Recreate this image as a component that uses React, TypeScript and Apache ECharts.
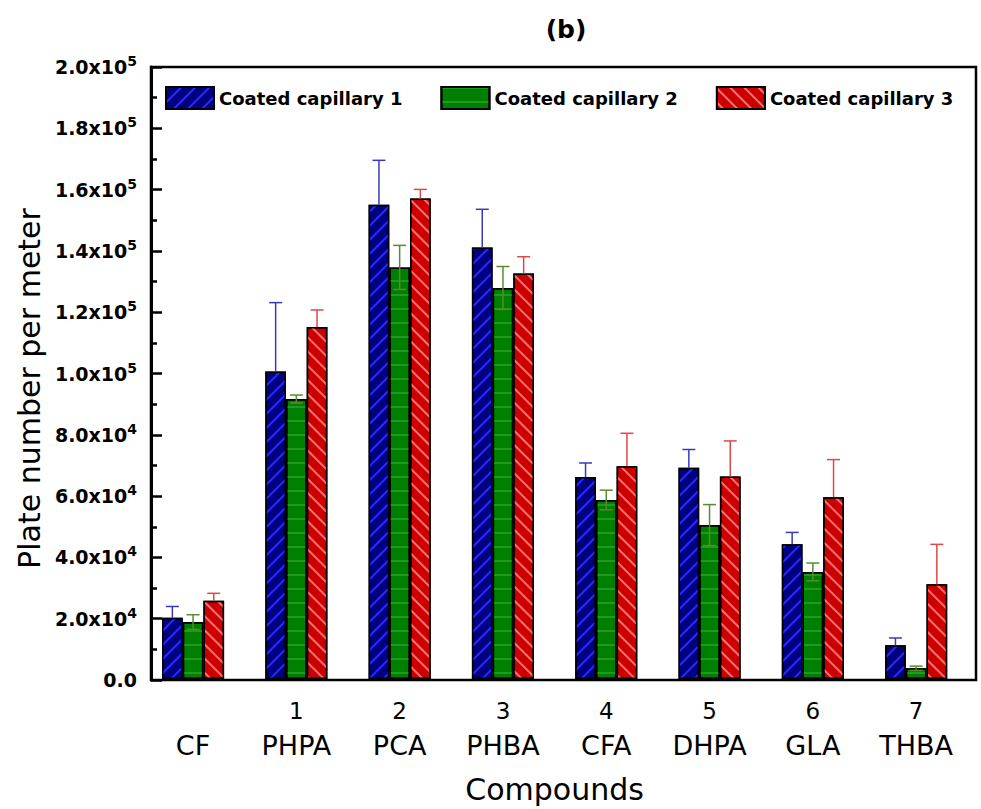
import React, { useEffect, useRef } from "react";
import * as echarts from "echarts";

const categories = ["CF", "PHPA", "PCA", "PHBA", "CFA", "DHPA", "GLA", "THBA"];
const compoundNumbers = ["", "1", "2", "3", "4", "5", "6", "7"];
const seriesNames = ["Coated capillary 1", "Coated capillary 2", "Coated capillary 3"];

const capillary1 = [20000, 100500, 155000, 141000, 66000, 69000, 44000, 11000];
const capillary1Err = [3700, 22500, 14500, 12500, 4600, 6000, 3900, 2400];
const capillary2 = [18600, 91500, 134500, 127800, 58500, 50300, 35000, 3500];
const capillary2Err = [2400, 1300, 7200, 7000, 3200, 6700, 2900, 700];
const capillary3 = [25600, 115000, 157000, 132500, 69500, 66200, 59400, 31000];
const capillary3Err = [2400, 5600, 3000, 5500, 10800, 11600, 12300, 13000];

const values = [capillary1, capillary2, capillary3];
const errors = [capillary1Err, capillary2Err, capillary3Err];

const fills = ["#000080", "#008000", "#cc0000"];
const errColors = ["#3a3ab8", "#5a8a30", "#e04848"];
const decals: any[] = [
  { symbol: "rect", symbolSize: 1, color: "#2a2aff", dashArrayX: [1, 0], dashArrayY: [1.2, 8], rotation: -Math.PI / 4 },
  { symbol: "rect", symbolSize: 1, color: "#1f9a1f", dashArrayX: [1, 0], dashArrayY: [1.2, 11.5], rotation: 0 },
  { symbol: "rect", symbolSize: 1, color: "#ff7070", dashArrayX: [1, 0], dashArrayY: [1.2, 8], rotation: Math.PI / 4 },
];

const BAR_W = 20.7;
const FONT = "DejaVu Sans";

function yLabel(v: number) {
  if (v === 0) return "{b|0.0}";
  const e = Math.floor(Math.log10(v) + 1e-9);
  const m = v / Math.pow(10, e);
  return `{b|${m.toFixed(1)}x10}{s|${e}}`;
}

export default function App() {
  const ref = useRef<HTMLDivElement>(null);
  useEffect(() => {
    if (!ref.current) return;
    const chart = echarts.init(ref.current, null, { renderer: "svg" });
    const barSeries = seriesNames.map((name, s) => ({
      name,
      type: "bar",
      xAxisIndex: 1,
      yAxisIndex: 1,
      data: values[s],
      barWidth: BAR_W,
      barGap: "0%",
      z: 2,
      itemStyle: { color: fills[s], borderColor: "#000", borderWidth: 1.5, decal: decals[s] },
    }));
    const errSeries = seriesNames.map((name, s) => ({
      name: "err" + s,
      type: "custom",
      xAxisIndex: 1,
      yAxisIndex: 1,
      z: 5,
      data: categories.map((c, i) => [i, values[s][i], errors[s][i]]),
      encode: { x: 0, y: 1 },
      renderItem: (params: any, api: any) => {
        const x = api.value(0);
        const v = api.value(1);
        const e = api.value(2);
        const top = api.coord([x, v + e]);
        const mid = api.coord([x, v]);
        const bot = api.coord([x, v - e]);
        const cx = top[0] + (s - 1) * BAR_W;
        const hw = 6.5;
        const style = { stroke: errColors[s], lineWidth: 1.5 };
        const children: any[] = [
          { type: "line", shape: { x1: cx, y1: top[1], x2: cx, y2: mid[1] }, style },
          { type: "line", shape: { x1: cx - hw, y1: top[1], x2: cx + hw, y2: top[1] }, style },
        ];
        if (s === 1) {
          children.push(
            { type: "line", shape: { x1: cx, y1: mid[1], x2: cx, y2: bot[1] }, style },
            { type: "line", shape: { x1: cx - hw, y1: bot[1], x2: cx + hw, y2: bot[1] }, style }
          );
        }
        return { type: "group", children };
      },
    }));
    chart.setOption({
      animation: false,
      backgroundColor: "#fff",
      title: {
        text: "(b)",
        left: 561,
        top: 12,
        textAlign: "center",
        textStyle: { fontFamily: FONT, fontWeight: "bold", fontSize: 25, color: "#000" },
      },
      legend: {
        data: seriesNames,
        left: 160,
        top: 81,
        itemWidth: 48,
        itemHeight: 22,
        itemGap: 38,
        icon: "rect",
        textStyle: { fontFamily: FONT, fontWeight: "bold", fontSize: 18, color: "#000" },
      },
      grid: [
        { left: 151, right: 5, top: 67, bottom: 129, show: true, borderColor: "#000", borderWidth: 2.5, backgroundColor: "transparent" },
        { left: 141.4, right: 13.2, top: 67, bottom: 129 },
      ],
      xAxis: [
        { type: "value", gridIndex: 0, min: 0, max: 1, show: false },
        {
          type: "category",
          gridIndex: 1,
          data: categories,
          axisLine: { show: false },
          axisTick: { show: false },
          axisLabel: {
            margin: 15,
            interval: 0,
            formatter: (v: string, i: number) => `{n|${compoundNumbers[i] || " "}}\n{c|${v}}`,
            rich: {
              n: { fontFamily: FONT, fontSize: 23, lineHeight: 33, color: "#000" },
              c: { fontFamily: FONT, fontSize: 27, lineHeight: 36, color: "#000" },
            },
          },
          name: "Compounds",
          nameLocation: "middle",
          nameGap: 95,
          nameTextStyle: { fontFamily: FONT, fontSize: 30, color: "#000" },
        },
      ],
      yAxis: [
        {
          type: "value",
          gridIndex: 0,
          min: 0,
          max: 200000,
          interval: 20000,
          axisLine: { show: true, lineStyle: { color: "#000", width: 3 } },
          axisTick: { show: true, inside: true, length: 11, lineStyle: { color: "#000", width: 2.5 } },
          minorTick: { show: true, splitNumber: 2, length: 6, lineStyle: { color: "#000", width: 2.5 } },
          splitLine: { show: false },
          axisLabel: {
            margin: 14,
            fontSize: 19,
            fontFamily: FONT,
            fontWeight: "bold",
            formatter: yLabel,
            rich: {
              b: { fontFamily: FONT, fontWeight: "bold", fontSize: 19, color: "#000" },
              s: { fontFamily: FONT, fontWeight: "bold", fontSize: 14, color: "#000", padding: [0, 0, 12, 0] },
            },
          },
          name: "Plate number per meter",
          nameLocation: "middle",
          nameGap: 100,
          nameTextStyle: { fontFamily: FONT, fontSize: 30, color: "#000", padding: [0, 30, 0, 0] },
        },
        { type: "value", gridIndex: 1, min: 0, max: 200000, show: false },
      ],
      series: [...barSeries, ...errSeries],
    });
    return () => chart.dispose();
  }, []);
  return <div ref={ref} style={{ position: "fixed", left: 0, top: 0, width: 981, height: 809 }} />;
}
